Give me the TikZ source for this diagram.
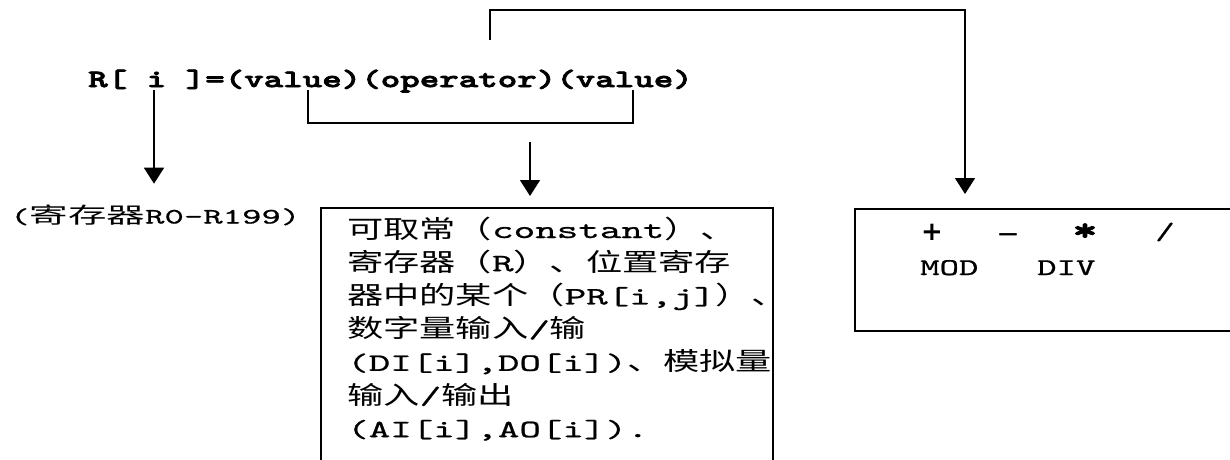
\documentclass[tikz,border=0pt]{standalone}
\usepackage{fontspec}
\usetikzlibrary{arrows.meta}
\newfontfamily\boxcjk[FakeStretch=1.45]{Noto Sans CJK SC}
\newfontfamily\boxmono[FakeStretch=1.64,FakeBold=0.8]{lmmono10-regular.otf}
\newfontfamily\labcjk[FakeStretch=1.75]{Noto Sans CJK SC}
\newfontfamily\labmono[FakeStretch=1.68,FakeBold=0.8]{lmmono10-regular.otf}
\newfontfamily\formmono[FakeStretch=1.486,FakeBold=3]{lmmonolt10-bold.otf}
\newfontfamily\opmono[FakeStretch=1.54,FakeBold=0.8]{lmmono10-regular.otf}
\newfontfamily\opsym{DejaVu Sans}
\newfontfamily\opsymb{DejaVu Sans Bold}
\newcommand\bc[1]{{\boxcjk #1}}
\newcommand\lc[1]{{\labcjk #1}}
\begin{document}
\begin{tikzpicture}[x=1pt,y=-1pt,
  line/.style={line width=1.6pt},
  arr/.style={line width=1.6pt,-{Triangle[width=20pt,length=16pt]}},
  frame/.style={draw,line width=1.6pt,anchor=north west,inner sep=0pt},
  txt/.style={inner sep=0pt,anchor=base west},
  optxt/.style={inner sep=0pt,anchor=center}]
\useasboundingbox (0,0) rectangle (1230,459);
\clip (0,0) rectangle (1230,459);
% formula
\node[txt,font={\formmono\fontsize{25}{30}\selectfont}] (formula) at (88,87) {R[ i ]=(value)(operator)(value)};
% register label
\node[txt,font={\labmono\fontsize{22}{26}\selectfont}] (reg) at (10,223.5) {(\lc{寄存器}R0-R199)};
% middle box
\node[frame,minimum width=452pt,minimum height=290pt] (midbox) at (320,207) {};
\node[txt,font={\boxmono\fontsize{25}{33.2}\selectfont}] (midtext) at (347,238) {\vtop{\baselineskip=33.2pt\lineskiplimit=-100pt
  \hbox{\bc{可取常（}constant\bc{）、}}
  \hbox{\bc{寄存器（}R\bc{）、位置寄存}}
  \hbox{\bc{器中的某个（}PR[i,j]\bc{）、}}
  \hbox{\bc{数字量输入}/\bc{输}}
  \hbox{(DI[i],DO[i])\bc{、模拟量}}
  \hbox{\bc{输入}/\bc{输出}}
  \hbox{(AI[i],AO[i]).}}};
% operator box
\node[frame,minimum width=420pt,minimum height=122pt] (opbox) at (854,208) {};
\node[optxt,font={\opsymb\fontsize{26}{30}\selectfont}] (plus) at (932,232) {+};
\node[optxt,font={\opsym\fontsize{28}{32}\selectfont}] (minus) at (1008,239) {−};
\node[optxt,font={\formmono\fontsize{32}{36}\selectfont}] (star) at (1085,232) {*};
\node[optxt,font={\opmono\fontsize{24}{28}\selectfont}] (slash) at (1165,232) {/};
\node[txt,font={\opmono\fontsize{24}{28}\selectfont}] (mod) at (920,275) {MOD};
\node[txt,font={\opmono\fontsize{24}{28}\selectfont}] (div) at (1037,275) {DIV};
% connectors
\coordinate (ia) at (154,90);
\draw[arr,shorten >=21pt] (ia) -- (ia |- reg.north);
\coordinate (bl) at (308,90);
\coordinate (br) at (633,90);
\draw[line] (bl) -- ++(0,33) -| (br);
\coordinate (ma) at (530,142);
\draw[arr,shorten >=11pt] (ma) -- (ma |- midbox.north);
\coordinate (ta) at (490,40);
\coordinate (tr) at (965,10);
\draw[arr,shorten >=14pt] (ta) |- (tr) -- (tr |- opbox.north);
\end{tikzpicture}
\end{document}
